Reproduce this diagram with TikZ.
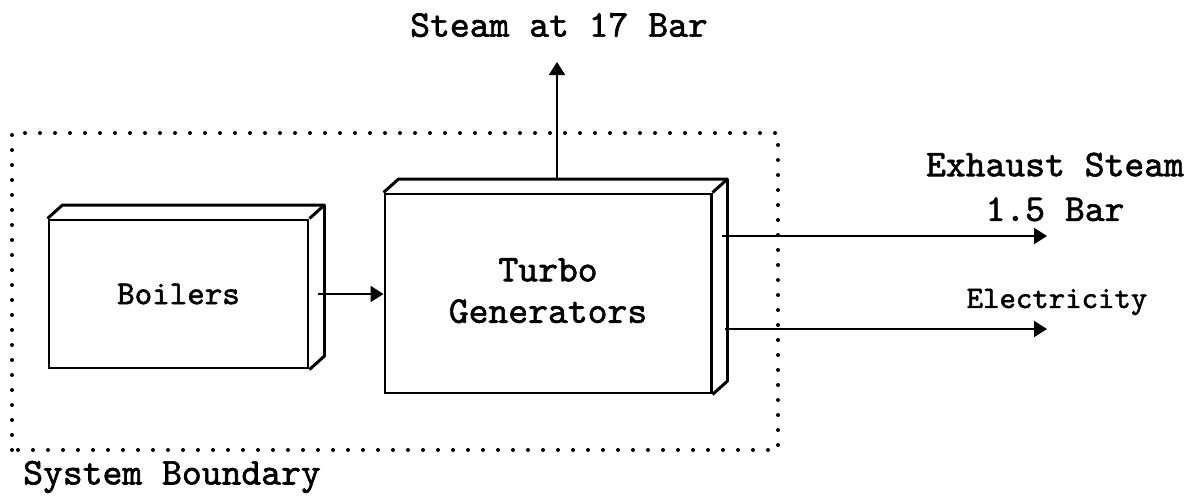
\documentclass[tikz,border=0pt]{standalone}
\usepackage{fontspec}
\newfontfamily\plotfont[FakeBold=1.6]{lmmono10-regular.otf}
\usetikzlibrary{arrows.meta}

\tikzset{
  txt/.style={font=\plotfont\fontsize{21.5}{22}\selectfont, align=center, inner sep=0pt},
  block/.style={txt, draw, line width=1.7pt, fill=white},
  flow/.style={-{Triangle[length=0.26cm,width=0.32cm]}, line width=1.1pt},
  boundary/.style={line width=0.08cm, line cap=round, dash pattern=on 0pt off 0.3cm},
}

% top and side faces of a block
\newcommand\blockdepth[1]{%
  \draw[line width=1.7pt, line join=round] (#1.north west) -- ++(0.3,0.27)
    -- ([shift={(0.3,0.27)}]#1.north east) -- ([shift={(0.3,0.27)}]#1.south east) -- (#1.south east);
  \draw[line width=1.7pt] (#1.north east) -- ++(0.3,0.27);
}

\begin{document}
\begin{tikzpicture}
  \useasboundingbox (0,0) rectangle (23.84,9.92);
  % system boundary
  \draw[boundary] (0.24,0.92) rectangle (15.56,7.26);
  \node[txt] (sysb) at (3.44,0.38) {System Boundary};
  % blocks
  \node[block, minimum width=5.18cm, minimum height=2.96cm,
        font=\plotfont\fontsize{19}{23}\selectfont] (boilers) at (3.57,4.04) {Boilers};
  \blockdepth{boilers}
  \node[block, minimum width=6.52cm, minimum height=3.98cm] (turbo) at (10.96,4.05)
    {\raisebox{0.12cm}{\shortstack{Turbo\\[0.25cm]Generators}}};
  \blockdepth{turbo}
  % flows
  \coordinate (steam) at (11.14,8.68);
  \coordinate (exhaust) at (20.94,5.20);
  \coordinate (power) at (20.94,3.34);
  \draw[flow] ([xshift=0.18cm]boilers.east) -- (turbo.west |- boilers.east);
  \draw[flow] ([shift={(0.18,0.27)}]turbo.north) -- (steam);
  \draw[flow] ([xshift=0.18cm]turbo.east |- exhaust) -- (exhaust);
  \draw[flow] ([xshift=0.24cm]turbo.east |- power) -- (power);
  % labels
  \node[txt] (steamlbl) at (11.18,9.42) {Steam at 17 Bar};
  \node[txt] (exhaustlbl) at (21.1,6.18) {Exhaust Steam\\[0.12cm]1.5 Bar};
  \node[txt, font=\plotfont\fontsize{17.8}{22}\selectfont] (powerlbl) at (21.14,3.88) {Electricity};
\end{tikzpicture}
\end{document}
